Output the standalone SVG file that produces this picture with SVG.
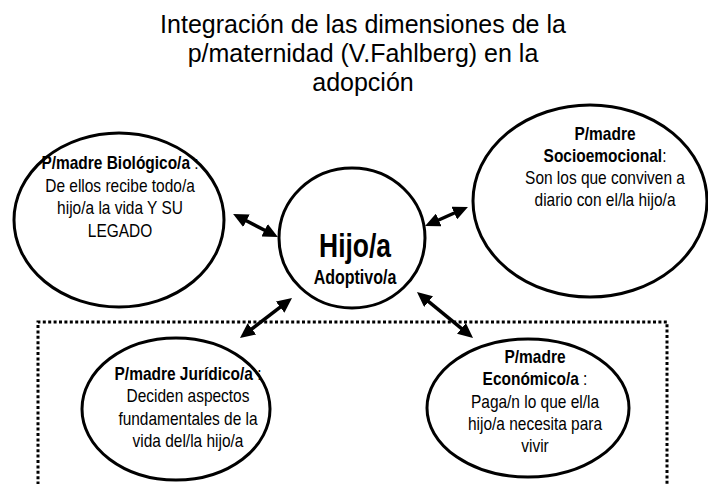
<svg xmlns="http://www.w3.org/2000/svg" width="708" height="484" viewBox="0 0 708 484">
<style>
  .bg{fill:#fff}
  .ell{fill:#fff;stroke:#000;stroke-width:3}
  .title{font-family:"Liberation Sans",Arial,sans-serif;font-size:25px;fill:#000;text-anchor:middle}
  .t{font-family:"Liberation Sans",Arial,sans-serif;font-size:18px;fill:#000;text-anchor:middle}
  .b{font-weight:bold}
  .big{font-family:"Liberation Sans",Arial,sans-serif;font-weight:bold;fill:#000;text-anchor:middle}
  .conn{stroke:#000;stroke-width:3.5;fill:none;marker-start:url(#ah);marker-end:url(#ah)}
  .dot{stroke:#000;stroke-width:3;fill:none;stroke-dasharray:3 2.4}
</style>
<defs>
  <marker id="ah" viewBox="0 -7 15 14" refX="5" refY="0" markerWidth="15" markerHeight="14" markerUnits="userSpaceOnUse" orient="auto-start-reverse">
    <path d="M0,-7 L15,0 L0,7 z" fill="#000"/>
  </marker>
</defs>
<rect class="bg" x="0" y="0" width="708" height="484"/>

<g id="title">
  <text class="title" x="363" y="33">Integración de las dimensiones de la</text>
  <text class="title" x="363" y="62">p/maternidad (V.Fahlberg) en la</text>
  <text class="title" x="363" y="91">adopción</text>
</g>

<path id="frame" class="dot" d="M38,490 V322 H667 V490"/>

<g id="connectors">
  <path class="conn" d="M242,218.5 L269,232.5"/>
  <path class="conn" d="M434.2,222 L458.8,211"/>
  <path class="conn" d="M284.1,304.1 L247.9,331.9"/>
  <path class="conn" d="M424.7,298.4 L465.3,331.6"/>
</g>

<g id="biologico">
  <ellipse class="ell" cx="119" cy="220" rx="105" ry="87"/>
  <g transform="translate(120,0) scale(0.86,1)">
    <text class="t" x="0" y="169"><tspan class="b">P/madre Biológico/a</tspan> :</text>
    <text class="t" x="0" y="192">De ellos recibe todo/a</text>
    <text class="t" x="0" y="214">hijo/a la vida Y SU</text>
    <text class="t" x="0" y="237">LEGADO</text>
  </g>
</g>

<g id="socioemocional">
  <ellipse class="ell" cx="590" cy="201" rx="117" ry="96"/>
  <g transform="translate(605,0) scale(0.86,1)">
    <text class="t b" x="0" y="140">P/madre</text>
    <text class="t" x="0" y="162"><tspan class="b">Socioemocional</tspan>:</text>
    <text class="t" x="0" y="184">Son los que conviven a</text>
    <text class="t" x="0" y="206">diario con el/la hijo/a</text>
  </g>
</g>

<g id="hijo">
  <ellipse class="ell" cx="352" cy="238" rx="73" ry="70"/>
  <g transform="translate(355,0) scale(0.8,1)">
    <text class="big" x="0" y="257" font-size="33">Hijo/a</text>
    <text class="big" x="0" y="284" font-size="20">Adoptivo/a</text>
  </g>
</g>

<g id="juridico">
  <ellipse class="ell" cx="176" cy="409" rx="94" ry="71"/>
  <g transform="translate(188,0) scale(0.86,1)">
    <text class="t" x="0" y="380"><tspan class="b">P/madre Jurídico/a</tspan> :</text>
    <text class="t" x="0" y="402">Deciden aspectos</text>
    <text class="t" x="0" y="425">fundamentales de la</text>
    <text class="t" x="0" y="447">vida del/la hijo/a</text>
  </g>
</g>

<g id="economico">
  <ellipse class="ell" cx="528" cy="408" rx="101" ry="69"/>
  <g transform="translate(535,0) scale(0.86,1)">
    <text class="t b" x="0" y="363">P/madre</text>
    <text class="t" x="0" y="385"><tspan class="b">Económico/a</tspan> :</text>
    <text class="t" x="0" y="408">Paga/n lo que el/la</text>
    <text class="t" x="0" y="430">hijo/a necesita para</text>
    <text class="t" x="0" y="452">vivir</text>
  </g>
</g>
</svg>
